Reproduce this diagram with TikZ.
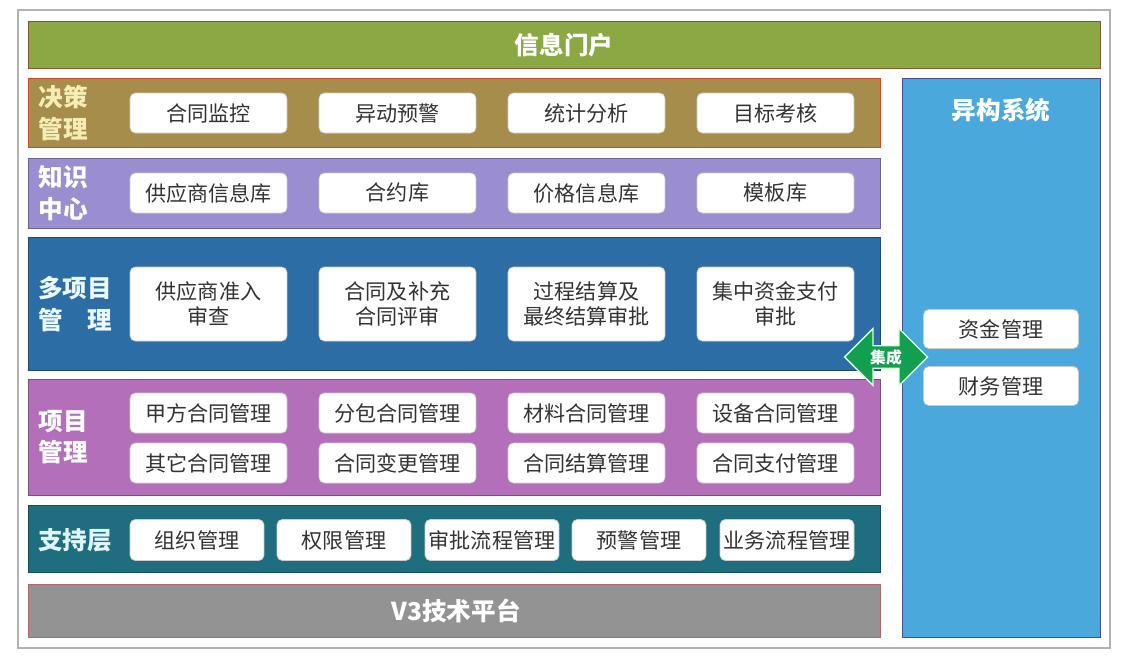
\documentclass[tikz,border=0pt]{standalone}
\usepackage{fontspec}
\setmainfont{Noto Sans CJK SC}
\usepackage{tikz}
\usetikzlibrary{positioning,shapes.arrows}
\usepackage{xcolor}
\definecolor{portal}{HTML}{8BA845}
\definecolor{decide}{HTML}{A68D4B}
\definecolor{know}{HTML}{9A8ED0}
\definecolor{multi}{HTML}{2C6DA6}
\definecolor{proj}{HTML}{B46FBA}
\definecolor{support}{HTML}{1F6E80}
\definecolor{platform}{HTML}{939393}
\definecolor{hetero}{HTML}{4BA8DC}
\definecolor{integ}{HTML}{12A050}
\definecolor{cream}{HTML}{F6EDB4}

\begin{document}
\begin{tikzpicture}[x=0.02cm, y=-0.02cm,
    item/.style={rectangle, rounded corners=3pt, fill=white, draw=gray!40, line width=0.4pt,
        text=black!80, font=\fontsize{12}{14.5}\selectfont, align=center, inner sep=0pt},
    itemwide/.style={item, minimum width=3.14cm, minimum height=0.8cm},
    itemtall/.style={item, minimum width=3.14cm, minimum height=1.48cm},
    itemsmall/.style={item, minimum width=2.68cm, minimum height=0.82cm},
    layertitle/.style={font=\fontsize{14}{18}\selectfont\bfseries, text=white, align=center}]
    \useasboundingbox (0,0) rectangle (1135,660);
    \draw[gray!60, line width=0.6pt] (18,10) rectangle (1110,648);

    % layers
    \draw[fill=portal, draw=brown!70!black, line width=0.5pt] (28,21) rectangle (1100,68);
    \draw[fill=decide, draw=red!45!brown, line width=0.5pt] (28,78) rectangle (880,147);
    \draw[fill=know, draw=know!70!black, line width=0.5pt] (28,158) rectangle (880,228);
    \draw[fill=multi, draw=multi!70!black, line width=0.5pt] (28,237) rectangle (880,370);
    \draw[fill=proj, draw=proj!70!black, line width=0.5pt] (28,379) rectangle (880,495);
    \draw[fill=support, draw=support!70!black, line width=0.5pt] (28,505) rectangle (880,572);
    \draw[fill=platform, draw=platform!70!red, line width=0.5pt] (28,584) rectangle (880,637);
    \draw[fill=hetero, draw=blue!40!black!70, line width=0.5pt] (902,78) rectangle (1100,637);

    \node[layertitle] (portal) at (564,45) {信息门户};
    \node[layertitle] (platform) at (456,611) {V3技术平台};
    \node[layertitle] (hetero) at (1001,110) {异构系统};

    \node[layertitle, text=cream] (tdecide) at (63,113) {决策\\管理};
    \node[layertitle] (tknow) at (63,193) {知识\\中心};
    \node[layertitle, text=cyan!8] (tmulti) at (75,304) {多项目\\管\hspace{1em}理};
    \node[layertitle] (tproj) at (63,437) {项目\\管理};
    \node[layertitle, text=cyan!12] (tsupport) at (75,540) {支持层};

    % decision
    \node[itemwide] (monitor) at (208.5,113) {合同监控};
    \node[itemwide] (alert) at (397.5,113) {异动预警};
    \node[itemwide] (stats) at (586.5,113) {统计分析};
    \node[itemwide] (target) at (775.5,113) {目标考核};

    % knowledge
    \node[itemwide] (supplib) at (208.5,193) {供应商信息库};
    \node[itemwide] (contlib) at (397.5,193) {合约库};
    \node[itemwide] (pricelib) at (586.5,193) {价格信息库};
    \node[itemwide] (templib) at (775.5,193) {模板库};

    % multi project
    \node[itemtall] (access) at (208.5,304) {供应商准入\\审查};
    \node[itemtall] (review) at (397.5,304) {合同及补充\\合同评审};
    \node[itemtall] (settle) at (586.5,304) {过程结算及\\最终结算审批};
    \node[itemtall] (funds) at (775.5,304) {集中资金支付\\审批};

    % project
    \node[itemwide] (owner) at (208.5,413) {甲方合同管理};
    \node[itemwide] (subc) at (397.5,413) {分包合同管理};
    \node[itemwide] (material) at (586.5,413) {材料合同管理};
    \node[itemwide] (equip) at (775.5,413) {设备合同管理};
    \node[itemwide] (other) at (208.5,463) {其它合同管理};
    \node[itemwide] (change) at (397.5,463) {合同变更管理};
    \node[itemwide] (csettle) at (586.5,463) {合同结算管理};
    \node[itemwide] (cpay) at (775.5,463) {合同支付管理};

    % support
    \node[itemsmall] (org) at (197,540) {组织管理};
    \node[itemsmall] (perm) at (344,540) {权限管理};
    \node[itemsmall] (flow) at (492,540) {审批流程管理};
    \node[itemsmall] (warn) at (639,540) {预警管理};
    \node[itemsmall] (biz) at (787,540) {业务流程管理};

    % heterogeneous systems
    \node[item, minimum width=3.1cm, minimum height=0.78cm] (cash) at (1001,329) {资金管理};
    \node[item, minimum width=3.1cm, minimum height=0.78cm] (finance) at (1001,386) {财务管理};

    \node[double arrow, fill=integ, draw=green!15, line width=0.8pt, inner sep=0pt,
        minimum height=1.66cm, minimum width=1.14cm, double arrow head extend=0.26cm,
        font=\fontsize{9}{10}\selectfont\bfseries, text=white] (integ) at (886,357) {集成};
\end{tikzpicture}
\end{document}
